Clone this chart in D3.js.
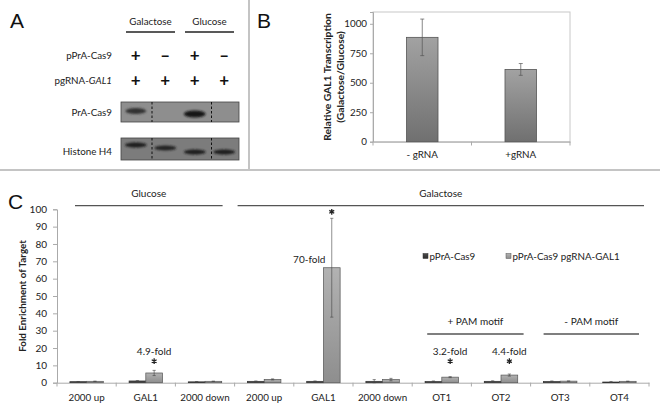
<!DOCTYPE html>
<html><head><meta charset="utf-8">
<script src="https://cdn.jsdelivr.net/npm/d3@7"></script>
<style>
body{margin:0;background:#fff;}
svg{display:block;font-family:Lato,"Open Sans",sans-serif;}
</style></head><body>
<svg id="c" width="660" height="412"></svg>
<script>
// ---------- DATA ----------
// Panel A (western blot)
const blotLanes = ["Gal +Cas9","Gal -Cas9","Glu +Cas9","Glu -Cas9"];
const blotConditions = [{label:"Galactose", lanes:[0,1]},{label:"Glucose", lanes:[2,3]}];
const rowCas9 = ["+","\u2013","+","\u2013"];
const rowGrna = ["+","+","+","+"];
const cas9BandIntensity = [0.75, 0, 1, 0];
const h4BandIntensity = [0.9, 0.85, 0.9, 0.9];

// Panel B
const bCategories = ["- gRNA","+gRNA"];
const bValues = [885, 613];
const bErrors = [155, 50];
const bTicks = [0,250,500,750,1000];

// Panel C
const cCategories = ["2000 up","GAL1","2000 down","2000 up","GAL1","2000 down","OT1","OT2","OT3","OT4"];
const seriesNames = ["pPrA-Cas9","pPrA-Cas9 pgRNA-GAL1"];
const cas9Only = [0.6,1.0,0.5,0.8,0.8,0.8,0.7,0.8,0.7,0.4];
const cas9OnlyErr = [0.1,0.2,0.1,0.2,0.2,1.0,0.3,0.3,0.3,0.3];
const cas9Grna = [0.8,5.6,0.8,1.9,66.3,1.8,3.2,4.4,0.9,0.8];
const cas9GrnaErr = [0.1,1.5,0.1,0.3,28.5,0.7,0.3,0.6,0.1,0.1];
const cTicks = [0,10,20,30,40,50,60,70,80,90,100];
const foldLabels = [{i:1,text:"4.9-fold"},{i:4,text:"70-fold"},{i:6,text:"3.2-fold"},{i:7,text:"4.4-fold"}];
const groups = [
  {label:"Glucose", from:0, to:2, level:0},
  {label:"Galactose", from:3, to:9, level:0},
  {label:"+ PAM motif", from:6, to:7, level:1},
  {label:"- PAM motif", from:8, to:9, level:1}
];

// ---------- DRAW ----------
const svg = d3.select("#c");
const defs = svg.append("defs");
function grad(id, top, bot){
  const g = defs.append("linearGradient").attr("id",id).attr("x1",0).attr("x2",0).attr("y1",0).attr("y2",1);
  g.append("stop").attr("offset","0%").attr("stop-color",top);
  g.append("stop").attr("offset","100%").attr("stop-color",bot);
}
grad("gB","#a2a2a2","#707070");
grad("gLight","#b2b2b2","#8e8e8e");
grad("gDark","#4c4c4c","#2c2c2c");
const blur = defs.append("filter").attr("id","blur").attr("x","-50%").attr("y","-100%").attr("width","200%").attr("height","300%");
blur.append("feGaussianBlur").attr("stdDeviation",1.1);

// panel separators
svg.append("line").attr("x1",0).attr("x2",660).attr("y1",170).attr("y2",170).attr("stroke","#c4c4c4").attr("stroke-width",2);
svg.append("line").attr("x1",249).attr("x2",249).attr("y1",0).attr("y2",170).attr("stroke","#c4c4c4").attr("stroke-width",2);

// panel letters
[["A",10,28],["B",257,28],["C",8,209]].forEach(([t,x,y])=>{
  svg.append("text").attr("x",x).attr("y",y).attr("font-family","'Liberation Sans',Arial,sans-serif")
    .attr("font-size",21).attr("fill","#111").text(t);
});

// ===== Panel A =====
const laneX = d3.scaleBand().domain(d3.range(blotLanes.length)).range([121,239]);
const A = svg.append("g");
blotConditions.forEach(c=>{
  const x0 = laneX(c.lanes[0])+5, x1 = laneX(c.lanes[c.lanes.length-1])+laneX.bandwidth()-5;
  A.append("text").attr("x",(x0+x1)/2).attr("y",25).attr("text-anchor","middle").attr("font-size",9.8).attr("fill","#222").text(c.label);
  A.append("line").attr("x1",x0).attr("x2",x1).attr("y1",32).attr("y2",32).attr("stroke","#222").attr("stroke-width",1.3);
});
const rowLab = (y, parts)=>{
  const t = A.append("text").attr("x",112).attr("y",y).attr("text-anchor","end").attr("font-size",9.8).attr("fill","#222");
  parts.forEach(p=>t.append("tspan").attr("font-style",p[1]?"italic":null).text(p[0]));
};
rowLab(59,[["pPrA-Cas9",false]]);
rowLab(84,[["pgRNA-",false],["GAL1",true]]);
rowLab(116,[["PrA-Cas9",false]]);
rowLab(155,[["Histone H4",false]]);
[[rowCas9,61],[rowGrna,86]].forEach(([row,y])=>{
  A.selectAll(null).data(row).join("text")
    .attr("x",(d,i)=>laneX(i)+laneX.bandwidth()/2).attr("y",y).attr("text-anchor","middle")
    .attr("font-size",17).attr("font-weight","bold").attr("fill","#111").text(d=>d);
});
function blot(y0,h,bg,intens,cls){
  A.append("rect").attr("x",121).attr("y",y0).attr("width",118).attr("height",h).attr("fill",bg).attr("stroke","#444").attr("stroke-width",0.8);
  A.selectAll(null).data(intens).join("ellipse").attr("class",cls)
    .attr("cx",(d,i)=>laneX(i)+laneX.bandwidth()/2)
    .attr("cy",(d,i)=>y0+h/2+(cls==="cas9"? (i===0?-1:2):(i===0?-4:(i===1?-1:3))))
    .attr("rx",(d,i)=>laneX.bandwidth()*(cls==="cas9"?(0.3+0.07*d):0.37))
    .attr("ry",d=>cls==="cas9"?1.5+2*d:2.6)
    .attr("fill",d=>d3.interpolateRgb(bg,"#151515")(d))
    .attr("opacity",d=>d>0?1:0)
    .attr("filter","url(#blur)");
  [laneX(1)+1.5, laneX(3)+2].forEach(x=>A.append("line").attr("x1",x).attr("x2",x).attr("y1",y0).attr("y2",y0+h)
    .attr("stroke","#111").attr("stroke-width",1).attr("stroke-dasharray","2.5,2"));
}
blot(102,20,"#8e8e8e",cas9BandIntensity,"cas9");
blot(138,22,"#7c7c7c",h4BandIntensity,"h4");

// ===== Panel B =====
const bx = d3.scaleBand().domain(bCategories).range([373,570]);
const by = d3.scaleLinear().domain([0,1100]).range([141.7,12]);
const B = svg.append("g");
B.append("rect").attr("x",373).attr("y",12).attr("width",197).attr("height",129.7).attr("fill","none").attr("stroke","#c8c8c8").attr("stroke-width",1);
B.append("g").attr("transform","translate(373,0)").call(d3.axisLeft(by).tickValues(bTicks).tickSize(3).tickPadding(3).tickFormat(d3.format("d")))
  .call(g=>{g.select(".domain").attr("stroke","#aaa");g.selectAll(".tick line").attr("stroke","#aaa");
    g.selectAll("text").attr("font-size",9.8).attr("fill","#222").attr("font-family","Lato,sans-serif");});
B.append("g").attr("transform","translate(0,141.7)").call(d3.axisBottom(bx).tickSize(0).tickPadding(9))
  .call(g=>{g.select(".domain").attr("stroke","#aaa");
    g.selectAll("text").attr("font-size",9.8).attr("fill","#222").attr("font-family","Lato,sans-serif");});
[373,373+bx.step(),570].forEach(x=>B.append("line").attr("x1",x).attr("x2",x).attr("y1",141.7).attr("y2",145.5).attr("stroke","#aaa"));
B.selectAll(null).data(bValues).join("rect")
  .attr("x",(d,i)=>bx(bCategories[i])+bx.bandwidth()*0.34).attr("width",bx.bandwidth()*0.32)
  .attr("y",d=>by(d)).attr("height",d=>by(0)-by(d)).attr("fill","url(#gB)").attr("stroke","#555").attr("stroke-width",0.8);
bValues.forEach((v,i)=>{
  const cx = bx(bCategories[i])+bx.bandwidth()/2;
  B.append("line").attr("x1",cx).attr("x2",cx).attr("y1",by(v+bErrors[i])).attr("y2",by(v-bErrors[i])).attr("stroke","#555").attr("stroke-width",0.7);
  [v+bErrors[i],v-bErrors[i]].forEach(e=>B.append("line").attr("x1",cx-2).attr("x2",cx+2).attr("y1",by(e)).attr("y2",by(e)).attr("stroke","#555").attr("stroke-width",0.7));
});
const bl = B.append("text").attr("transform","translate(331,77) rotate(-90)").attr("text-anchor","middle").attr("font-size",10.3).attr("font-weight","bold").attr("fill","#222");
bl.append("tspan").attr("x",0).attr("dy",0).text("Relative GAL1 Transcription");
bl.append("tspan").attr("x",0).attr("dy",12.5).text("(Galactose/Glucose)");

// ===== Panel C =====
const cx = d3.scaleBand().domain(d3.range(cCategories.length)).range([57,649]);
const sub = d3.scaleBand().domain([0,1]).range([0,cx.bandwidth()]).paddingOuter(0.77);
const cy = d3.scaleLinear().domain([0,100]).range([382.7,209.3]);
const C = svg.append("g");
C.append("g").attr("transform","translate(57,0)").call(d3.axisLeft(cy).tickValues(cTicks).tickSize(4).tickPadding(6))
  .call(g=>{g.select(".domain").attr("stroke","#aaa");g.selectAll(".tick line").attr("stroke","#aaa");
    g.selectAll("text").attr("font-size",10).attr("fill","#222").attr("font-family","Lato,sans-serif");});
C.append("g").attr("transform","translate(0,382.7)").call(d3.axisBottom(cx).tickSize(0).tickPadding(11).tickFormat(i=>cCategories[i]))
  .call(g=>{g.select(".domain").attr("stroke","#aaa");
    g.selectAll("text").attr("font-size",9.8).attr("fill","#222").attr("font-family","Lato,sans-serif");});
d3.range(cCategories.length+1).forEach(i=>C.append("line").attr("x1",57+i*cx.step()).attr("x2",57+i*cx.step()).attr("y1",382.7).attr("y2",386.5).attr("stroke","#aaa"));
const series = [{vals:cas9Only,errs:cas9OnlyErr,fill:"url(#gDark)",stroke:"#333"},{vals:cas9Grna,errs:cas9GrnaErr,fill:"url(#gLight)",stroke:"#555"}];
series.forEach((s,si)=>{
  C.selectAll(null).data(s.vals).join("rect")
    .attr("x",(d,i)=>cx(i)+sub(si)).attr("width",sub.bandwidth())
    .attr("y",d=>cy(d)).attr("height",d=>cy(0)-cy(d)).attr("fill",s.fill).attr("stroke",s.stroke).attr("stroke-width",0.7);
  s.vals.forEach((v,i)=>{
    const x = cx(i)+sub(si)+sub.bandwidth()/2;
    const lo = Math.max(0,v-s.errs[i]), hi = v+s.errs[i];
    C.append("line").attr("x1",x).attr("x2",x).attr("y1",cy(hi)).attr("y2",cy(lo)).attr("stroke","#444").attr("stroke-width",0.6);
    [hi,lo].forEach(e=>C.append("line").attr("x1",x-1.6).attr("x2",x+1.6).attr("y1",cy(e)).attr("y2",cy(e)).attr("stroke","#444").attr("stroke-width",0.6));
  });
});
C.append("text").attr("transform","translate(26,296) rotate(-90)").attr("text-anchor","middle").attr("font-size",9.8).attr("font-weight","bold").attr("fill","#222").text("Fold Enrichment of Target");

// fold annotations (significance asterisks drawn as symbols)
const starType = d3.symbolAsterisk || d3.symbolCross;
const star = d3.symbol().type(starType).size(22);
foldLabels.forEach(f=>{
  const x = cx(f.i)+sub(1)+sub.bandwidth()/2;
  const top = cy(cas9Grna[f.i]+cas9GrnaErr[f.i]);
  const sy = cas9Grna[f.i] > 30 ? top-6.5 : cy(12.4);
  C.append("path").attr("d",star()).attr("transform",`translate(${x},${sy})`)
    .attr("fill","none").attr("stroke","#222").attr("stroke-width",1.3);
  if(cas9Grna[f.i] > 30){
    C.append("text").attr("x",cx(f.i)+sub(1)+2).attr("y",cy(cas9Grna[f.i])-5).attr("text-anchor","end").attr("font-size",10).attr("fill","#222").text(f.text);
  } else {
    C.append("text").attr("x",x).attr("y",cy(18)+3.5).attr("text-anchor","middle").attr("font-size",10).attr("fill","#222").text(f.text);
  }
});

// group headers
const inset = {"Glucose":[18,-12],"Galactose":[3,-5],"+ PAM motif":[15,-7],"- PAM motif":[13,-10]};
groups.forEach(g=>{
  const x0 = cx(g.from)+inset[g.label][0], x1 = cx(g.to)+cx.bandwidth()+inset[g.label][1];
  const ly = g.level===0?205.7:334;
  C.append("line").attr("x1",x0).attr("x2",x1).attr("y1",ly).attr("y2",ly).attr("stroke","#555").attr("stroke-width",1.3);
  C.append("text").attr("x",(x0+x1)/2).attr("y",ly-9).attr("text-anchor","middle").attr("font-size",10).attr("fill","#222").text(g.label);
});

// legend
const lg = C.append("g").attr("transform","translate(423,256)");
const lgX = [0,83];
seriesNames.forEach((n,i)=>{
  lg.append("rect").attr("x",lgX[i]).attr("y",-2.5).attr("width",5).attr("height",5).attr("fill",series[i].fill).attr("stroke",series[i].stroke).attr("stroke-width",0.5);
  lg.append("text").attr("x",lgX[i]+6.5).attr("y",3.5).attr("font-size",9.8).attr("fill","#222").text(n);
});
</script></body></html>
